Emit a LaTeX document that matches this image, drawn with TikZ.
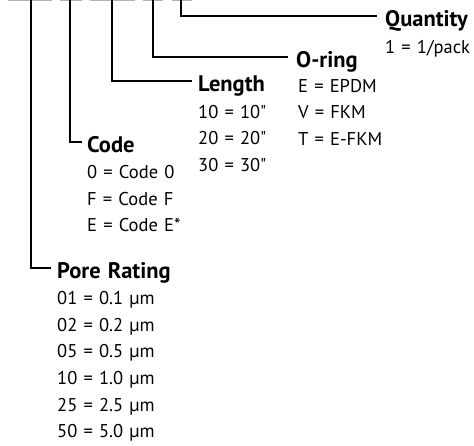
\documentclass[tikz,border=0pt]{standalone}
\usepackage{fontspec}
\setmainfont{PT Sans}[Ligatures=TeXOff]
\newfontfamily\optfont{PT Sans}[Ligatures=TeXOff,WordSpace=1.25]
\usetikzlibrary{positioning}
\begin{document}
\begin{tikzpicture}[x=1pt,y=-1pt]
  \tikzstyle{blank}=[draw=black!30,line width=2pt]
  \tikzstyle{lead}=[draw=black,line width=2pt]
  \tikzstyle{head}=[anchor=base west,inner sep=0pt,font=\fontsize{22.5}{22.5}\selectfont\bfseries]
  \tikzstyle{opt}=[anchor=base west,inner sep=0pt,font=\optfont\fontsize{18.5}{18.5}\selectfont]
  \useasboundingbox (0,0) rectangle (474,445);
  \foreach \a/\b in {8/52,60/82,90/135,143/163,172/192}
    \draw[blank] (\a,0) -- (\b,0);
  \coordinate (pore top) at (31,0);
  \coordinate (code top) at (70,0);
  \coordinate (len top) at (112,0);
  \coordinate (ring top) at (153,0);
  \coordinate (qty top) at (181,0);
  \node[head] (pore) at (57,278) {Pore Rating};
  \node[head] (code) at (87,152) {Code};
  \node[head] (len) at (198,91.5) {Length};
  \node[head] (ring) at (296,67.5) {O-ring};
  \node[head] (qty) at (385,26.5) {Quantity};
  \draw[lead] (pore top) |- ([xshift=-6pt,yshift=10.5pt]pore.base west);
  \draw[lead] (code top) |- ([xshift=-5pt,yshift=10.5pt]code.base west);
  \draw[lead] (len top) |- ([xshift=-6pt,yshift=10.5pt]len.base west);
  \draw[lead] (ring top) |- ([xshift=-8pt,yshift=10.5pt]ring.base west);
  \draw[lead] (qty top) |- ([xshift=-8pt,yshift=10.5pt]qty.base west);
  \foreach \t [count=\i] in {01 = 0.1 µm,02 = 0.2 µm,05 = 0.5 µm,10 = 1.0 µm,25 = 2.5 µm,50 = 5.0 µm}
    \node[opt] (pore-\i) at ([yshift={-\i*26.6pt}]pore.base west) {\t};
  \foreach \t [count=\i] in {0 = Code 0,F = Code F,E = Code E*}
    \node[opt] (code-\i) at ([yshift={-\i*26.6pt}]code.base west) {\t};
  \foreach \t [count=\i] in {10 = 10",20 = 20",30 = 30"}
    \node[opt] (len-\i) at ([yshift={-\i*26.6pt}]len.base west) {\t};
  \foreach \t [count=\i] in {E = EPDM,V = FKM,T = E-FKM}
    \node[opt] (ring-\i) at ([xshift=2pt,yshift={-\i*26.6pt+2pt}]ring.base west) {\t};
  \foreach \t [count=\i] in {1 = 1/pack}
    \node[opt] (qty-\i) at ([yshift={-\i*26.6pt}]qty.base west) {\t};
\end{tikzpicture}
\end{document}
